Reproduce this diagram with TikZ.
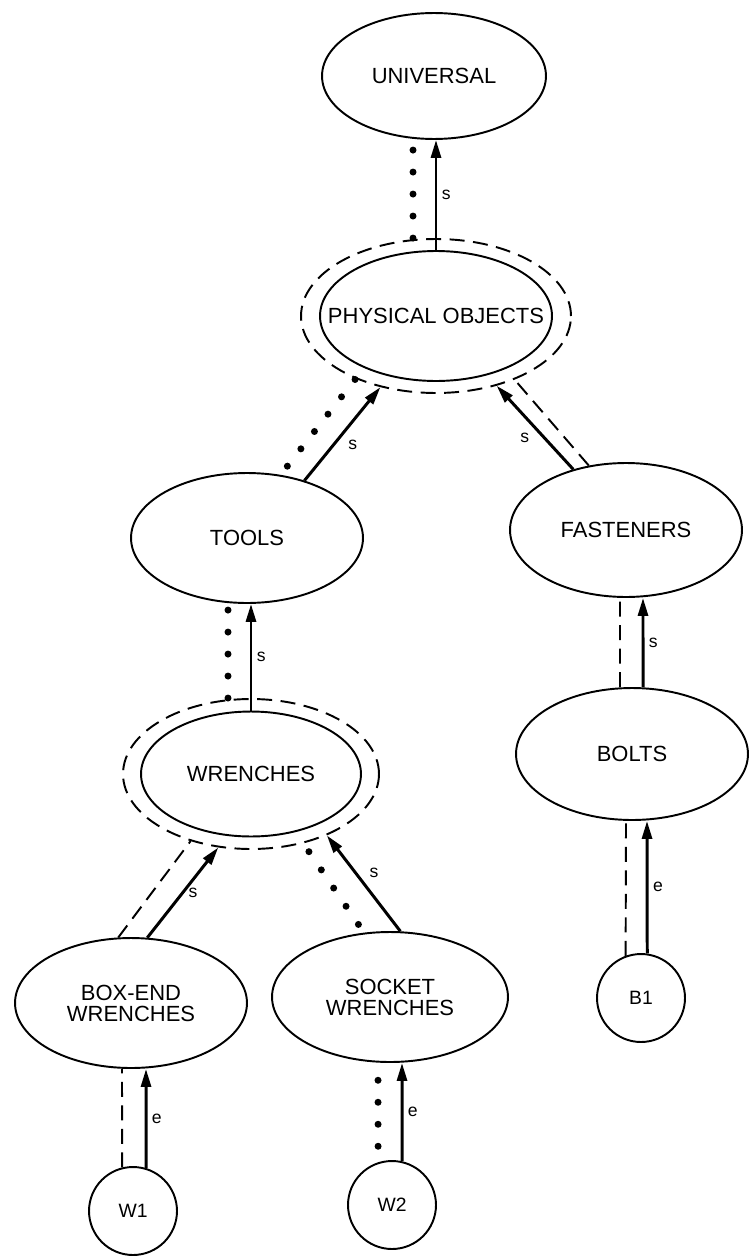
\documentclass[tikz,border=0pt]{standalone}
\usepackage{fontspec}
\setmainfont{Liberation Sans}
\usetikzlibrary{shapes.geometric,arrows.meta}

\tikzset{
  cls/.style={ellipse, draw, line width=1.1pt, inner sep=0pt, minimum width=4.64cm, minimum height=2.6cm, align=center, font=\fontsize{12.5}{12}\selectfont},
  clsout/.style={ellipse, draw, line width=1.1pt, inner sep=0pt, dash pattern=on .3cm off .17cm},
  inst/.style={circle, draw, line width=1.1pt, inner sep=0pt, minimum size=1.76cm, font=\fontsize{11}{12}\selectfont},
  sarr/.style={line width=1.7pt, -{Triangle[length=.36cm,width=.2cm]}},
  dotln/.style={line width=.14cm, line cap=round, dash pattern=on 0pt off .44cm},
  dashln/.style={line width=1.1pt, dash pattern=on .3cm off .17cm},
  lab/.style={font=\fontsize{10}{11}\selectfont, inner sep=2.5pt}
}

\begin{document}
\begin{tikzpicture}[x=.02cm, y=-.02cm]
\useasboundingbox (0,0) rectangle (752,1257);
% classes
\node[cls, minimum width=4.48cm, minimum height=2.52cm] (univ) at (434,76) {UNIVERSAL};
\node[cls] (phys) at (436,316) {\makebox[0pt]{PHYSICAL OBJECTS}};
\node[clsout, minimum width=5.4cm, minimum height=3.08cm] (physout) at (436,316) {};
\node[cls] (tools) at (247,538) {TOOLS};
\node[cls, minimum height=2.68cm] (fast) at (626,530) {FASTENERS};
\node[cls, minimum width=4.4cm, minimum height=2.5cm] (wren) at (251,774) {WRENCHES};
\node[clsout, minimum width=5.12cm, minimum height=3cm] (wrenout) at (251,774) {};
\node[cls, minimum height=2.64cm] (bolts) at (632,754) {BOLTS};
\node[cls] (boxend) at (131,1003) {BOX-END\\WRENCHES};
\node[cls, minimum width=4.72cm] (socket) at (390,997) {SOCKET\\WRENCHES};
% instances
\node[inst] (w1) at (133,1211) {W1};
\node[inst] (w2) at (392,1205) {W2};
\node[inst] (b1) at (641,998) {B1};
% physical objects - universal
\draw[sarr] (phys.north) -- (phys.north |- univ.south) node[lab, midway, right] {s};
\draw[dotln, shorten >=.2cm] ([xshift=-.46cm]physout.north) -- ([xshift=-.42cm]univ.south);
% tools / fasteners - physical objects
\draw[sarr] (tools.45) -- (physout.232) node[lab, midway, below right] {s};
\draw[dotln, shorten <=.22cm] (tools.62) -- (physout.218);
\draw[sarr] (fast.131) -- (physout.311) node[lab, midway, below left] {s};
\draw[dashln] (fast.120) -- (physout.321);
% wrenches - tools
\draw[sarr] (wren.north) -- (wren.north |- tools.south) node[lab, midway, right] {s};
\draw[dotln, shorten >=.1cm] ([xshift=-.46cm]wrenout.north) -- ([xshift=-.38cm]tools.south);
% bolts - fasteners
\draw[sarr] ([xshift=.22cm]bolts.north) -- ([xshift=.34cm]fast.south) node[lab, midway, right] {s};
\draw[dashln] ([xshift=-.24cm]bolts.north) -- ([xshift=-.12cm]fast.south);
% box-end / socket - wrenches
\draw[sarr] (boxend.76) -- (wrenout.246) node[lab, midway, right] {s};
\draw[dashln] (boxend.101) -- (wrenout.228);
\draw[sarr] (socket.81) -- (wrenout.321) node[lab, midway, above right] {s};
\draw[dotln, shorten <=.2cm] (wrenout.307) -- (socket.112);
% instances
\draw[sarr] (w1.73) -- ([xshift=.30cm]boxend.south) node[lab, midway, right] {e};
\draw[dashln] (w1.104) -- ([xshift=-.18cm]boxend.south);
\draw[sarr] (w2.77) -- ([xshift=.24cm]socket.south) node[lab, midway, right] {e};
\draw[dotln, shorten <=.32cm, shorten >=.2cm] (w2.108) -- ([xshift=-.24cm]socket.south);
\draw[sarr] (b1.82) -- ([xshift=.30cm]bolts.south) node[lab, midway, right] {e};
\draw[dashln] (b1.110) -- ([xshift=-.12cm]bolts.south);
\end{tikzpicture}
\end{document}
